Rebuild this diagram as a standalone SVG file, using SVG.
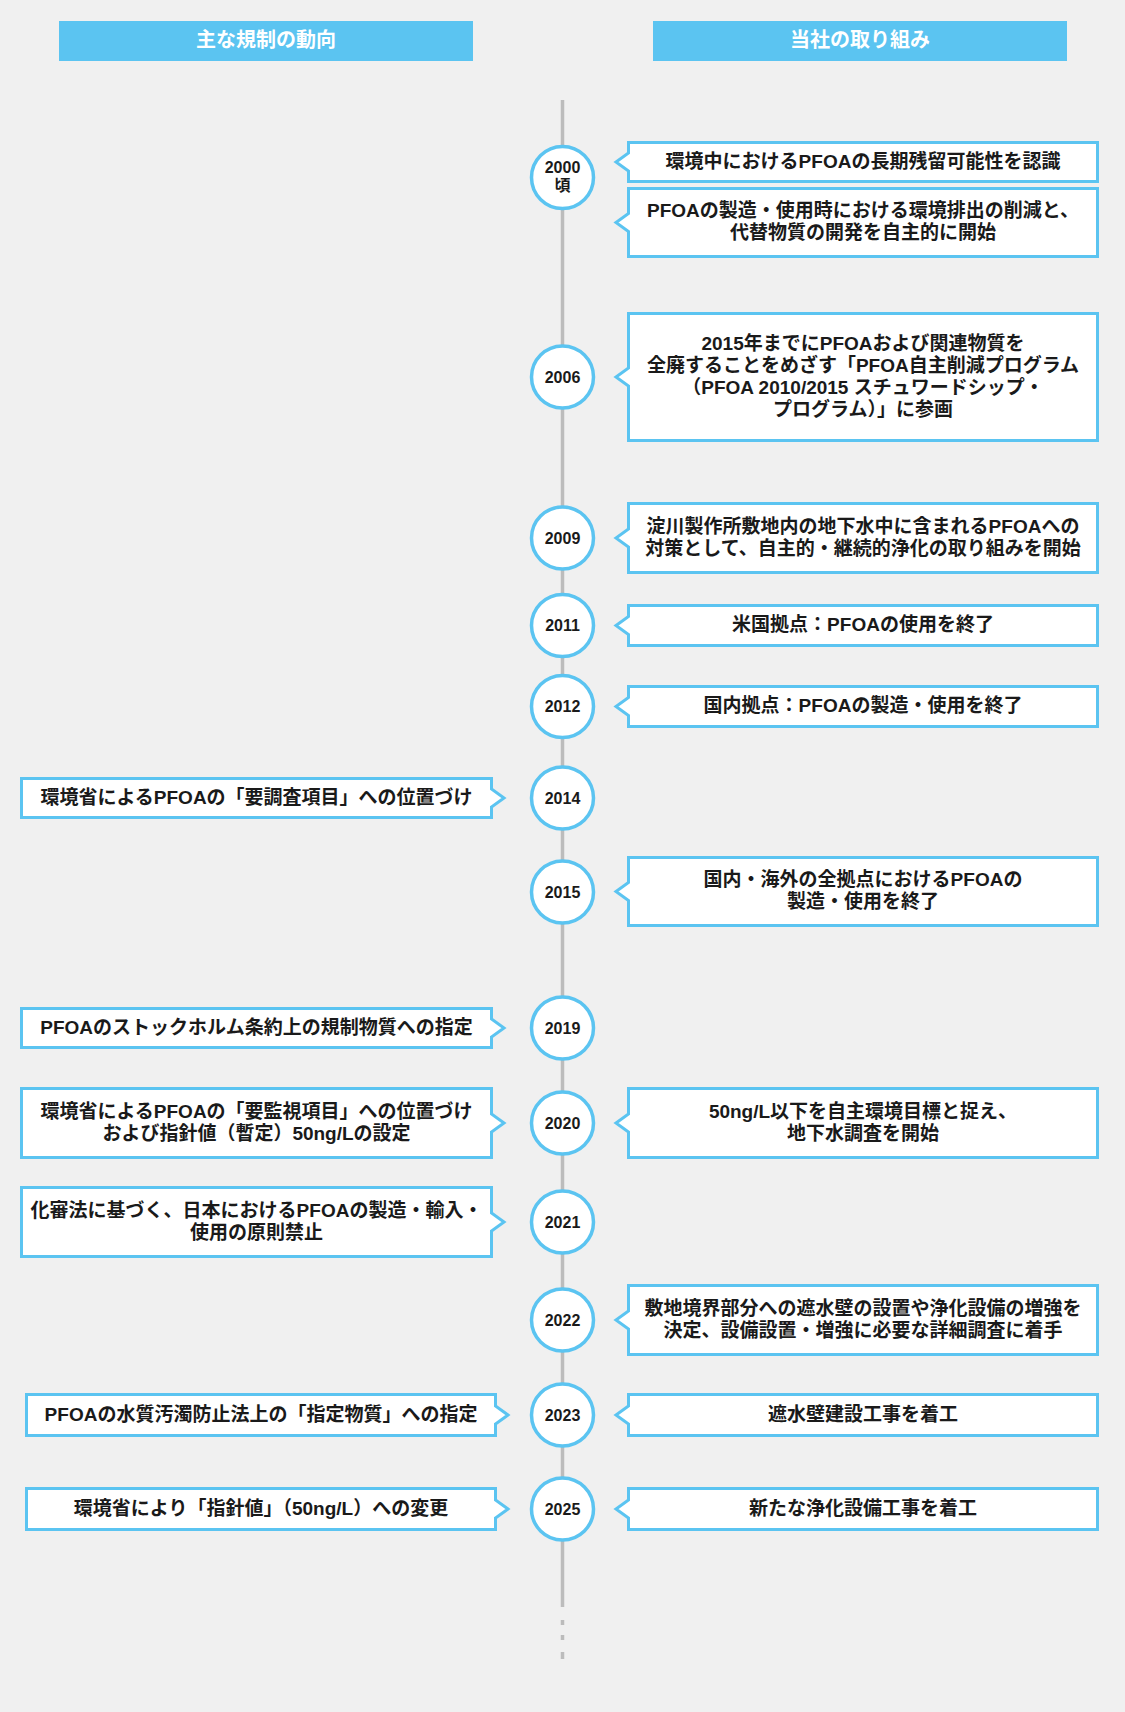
<svg xmlns="http://www.w3.org/2000/svg" width="1125" height="1712" viewBox="0 0 1125 1712">
<style>
.bg{fill:#f0f0f0}
.hdr{fill:#5bc4f1}
.ht{font-family:"Liberation Sans","Noto Sans CJK JP",sans-serif;font-size:20px;font-weight:bold;fill:#ffffff;text-anchor:middle}
.box{fill:#ffffff;stroke:#5bc4f1;stroke-width:3;stroke-linejoin:miter}
.t{font-family:"Liberation Sans","Noto Sans CJK JP",sans-serif;font-size:19px;font-weight:bold;fill:#1a1a1a;text-anchor:middle}
.yr{fill:#ffffff;stroke:#5bc4f1;stroke-width:3.5}
.yt{font-family:"Liberation Sans","Noto Sans CJK JP",sans-serif;font-size:16px;font-weight:bold;fill:#1a1a1a;text-anchor:middle}
.spine{stroke:#bcbcbc;stroke-width:3.5;fill:none}
</style>
<rect class="bg" x="0" y="0" width="1125" height="1712"/>

<g id="header-left"><rect class="hdr" x="59" y="21" width="414" height="40"/><text class="ht" x="266" y="47">主な規制の動向</text></g>
<g id="header-right"><rect class="hdr" x="653" y="21" width="414" height="40"/><text class="ht" x="860" y="47">当社の取り組み</text></g>

<g id="connectors">
<line class="spine" x1="562.5" y1="100" x2="562.5" y2="1607"/>
<line class="spine" x1="562.5" y1="1620" x2="562.5" y2="1625"/>
<line class="spine" x1="562.5" y1="1635" x2="562.5" y2="1640"/>
<line class="spine" x1="562.5" y1="1652" x2="562.5" y2="1659"/>
</g>

<!-- year circles -->
<g id="y2000"><circle class="yr" cx="562.5" cy="177.5" r="31"/><text class="yt" x="562.5" y="173">2000<tspan x="562.5" dy="18">頃</tspan></text></g>
<g id="y2006"><circle class="yr" cx="562.5" cy="377" r="31"/><text class="yt" x="562.5" y="382.5">2006</text></g>
<g id="y2009"><circle class="yr" cx="562.5" cy="538" r="31"/><text class="yt" x="562.5" y="543.5">2009</text></g>
<g id="y2011"><circle class="yr" cx="562.5" cy="625.5" r="31"/><text class="yt" x="562.5" y="631">2011</text></g>
<g id="y2012"><circle class="yr" cx="562.5" cy="706.5" r="31"/><text class="yt" x="562.5" y="712">2012</text></g>
<g id="y2014"><circle class="yr" cx="562.5" cy="798" r="31"/><text class="yt" x="562.5" y="803.5">2014</text></g>
<g id="y2015"><circle class="yr" cx="562.5" cy="892" r="31"/><text class="yt" x="562.5" y="897.5">2015</text></g>
<g id="y2019"><circle class="yr" cx="562.5" cy="1028" r="31"/><text class="yt" x="562.5" y="1033.5">2019</text></g>
<g id="y2020"><circle class="yr" cx="562.5" cy="1123" r="31"/><text class="yt" x="562.5" y="1128.5">2020</text></g>
<g id="y2021"><circle class="yr" cx="562.5" cy="1222" r="31"/><text class="yt" x="562.5" y="1227.5">2021</text></g>
<g id="y2022"><circle class="yr" cx="562.5" cy="1320" r="31"/><text class="yt" x="562.5" y="1325.5">2022</text></g>
<g id="y2023"><circle class="yr" cx="562.5" cy="1415" r="31"/><text class="yt" x="562.5" y="1420.5">2023</text></g>
<g id="y2025"><circle class="yr" cx="562.5" cy="1509" r="31"/><text class="yt" x="562.5" y="1514.5">2025</text></g>

<!-- right boxes (company actions) -->
<g id="r2000a"><path class="box" d="M628.5,142.5 H1097.5 V181.5 H628.5 V171 L616,162 L628.5,153 Z"/><text class="t" x="863" y="167.5">環境中におけるPFOAの長期残留可能性を認識</text></g>
<g id="r2000b"><path class="box" d="M628.5,188.5 H1097.5 V256.5 H628.5 V231.5 L616,222.5 L628.5,213.5 Z"/><text class="t" x="863" y="217">PFOAの製造・使用時における環境排出の削減と、<tspan x="863" dy="22">代替物質の開発を自主的に開始</tspan></text></g>
<g id="r2006"><path class="box" d="M628.5,313.5 H1097.5 V440.5 H628.5 V386 L616,377 L628.5,368 Z"/><text class="t" x="863" y="349.5">2015年までにPFOAおよび関連物質を<tspan x="863" dy="22">全廃することをめざす「PFOA自主削減プログラム</tspan><tspan x="863" dy="22">（PFOA 2010/2015 スチュワードシップ・</tspan><tspan x="863" dy="22">プログラム）」に参画</tspan></text></g>
<g id="r2009"><path class="box" d="M628.5,503.5 H1097.5 V572.5 H628.5 V547 L616,538 L628.5,529 Z"/><text class="t" x="863" y="532.5">淀川製作所敷地内の地下水中に含まれるPFOAへの<tspan x="863" dy="22">対策として、自主的・継続的浄化の取り組みを開始</tspan></text></g>
<g id="r2011"><path class="box" d="M628.5,605.5 H1097.5 V645.5 H628.5 V634.5 L616,625.5 L628.5,616.5 Z"/><text class="t" x="863" y="631">米国拠点：PFOAの使用を終了</text></g>
<g id="r2012"><path class="box" d="M628.5,686.5 H1097.5 V726.5 H628.5 V715.5 L616,706.5 L628.5,697.5 Z"/><text class="t" x="863" y="712">国内拠点：PFOAの製造・使用を終了</text></g>
<g id="r2015"><path class="box" d="M628.5,857.5 H1097.5 V925.5 H628.5 V900.5 L616,891.5 L628.5,882.5 Z"/><text class="t" x="863" y="886">国内・海外の全拠点におけるPFOAの<tspan x="863" dy="22">製造・使用を終了</tspan></text></g>
<g id="r2020"><path class="box" d="M628.5,1088.5 H1097.5 V1157.5 H628.5 V1132 L616,1123 L628.5,1114 Z"/><text class="t" x="863" y="1117.5">50ng/L以下を自主環境目標と捉え、<tspan x="863" dy="22">地下水調査を開始</tspan></text></g>
<g id="r2022"><path class="box" d="M628.5,1285.5 H1097.5 V1354.5 H628.5 V1329 L616,1320 L628.5,1311 Z"/><text class="t" x="863" y="1314.5">敷地境界部分への遮水壁の設置や浄化設備の増強を<tspan x="863" dy="22">決定、設備設置・増強に必要な詳細調査に着手</tspan></text></g>
<g id="r2023"><path class="box" d="M628.5,1394.5 H1097.5 V1435.5 H628.5 V1424 L616,1415 L628.5,1406 Z"/><text class="t" x="863" y="1420.5">遮水壁建設工事を着工</text></g>
<g id="r2025"><path class="box" d="M628.5,1488.5 H1097.5 V1529.5 H628.5 V1518 L616,1509 L628.5,1500 Z"/><text class="t" x="863" y="1514.5">新たな浄化設備工事を着工</text></g>

<!-- left boxes (regulations) -->
<g id="l2014"><path class="box" d="M21.5,778.5 H491.5 V789 L504,798 L491.5,807 V817.5 H21.5 Z"/><text class="t" x="256.5" y="803.5">環境省によるPFOAの「要調査項目」への位置づけ</text></g>
<g id="l2019"><path class="box" d="M21.5,1008.5 H491.5 V1019 L504,1028 L491.5,1037 V1047.5 H21.5 Z"/><text class="t" x="256.5" y="1033.5">PFOAのストックホルム条約上の規制物質への指定</text></g>
<g id="l2020"><path class="box" d="M21.5,1088.5 H491.5 V1114 L504,1123 L491.5,1132 V1157.5 H21.5 Z"/><text class="t" x="256.5" y="1117.5">環境省によるPFOAの「要監視項目」への位置づけ<tspan x="256.5" dy="22">および指針値（暫定）50ng/Lの設定</tspan></text></g>
<g id="l2021"><path class="box" d="M21.5,1187.5 H491.5 V1213 L504,1222 L491.5,1231 V1256.5 H21.5 Z"/><text class="t" x="256.5" y="1216.5">化審法に基づく、日本におけるPFOAの製造・輸入・<tspan x="256.5" dy="22">使用の原則禁止</tspan></text></g>
<g id="l2023"><path class="box" d="M26.5,1394.5 H495.5 V1406 L508,1415 L495.5,1424 V1435.5 H26.5 Z"/><text class="t" x="261" y="1420.5">PFOAの水質汚濁防止法上の「指定物質」への指定</text></g>
<g id="l2025"><path class="box" d="M26.5,1488.5 H495.5 V1500 L508,1509 L495.5,1518 V1529.5 H26.5 Z"/><text class="t" x="261" y="1514.5">環境省により「指針値」（50ng/L）への変更</text></g>
</svg>
